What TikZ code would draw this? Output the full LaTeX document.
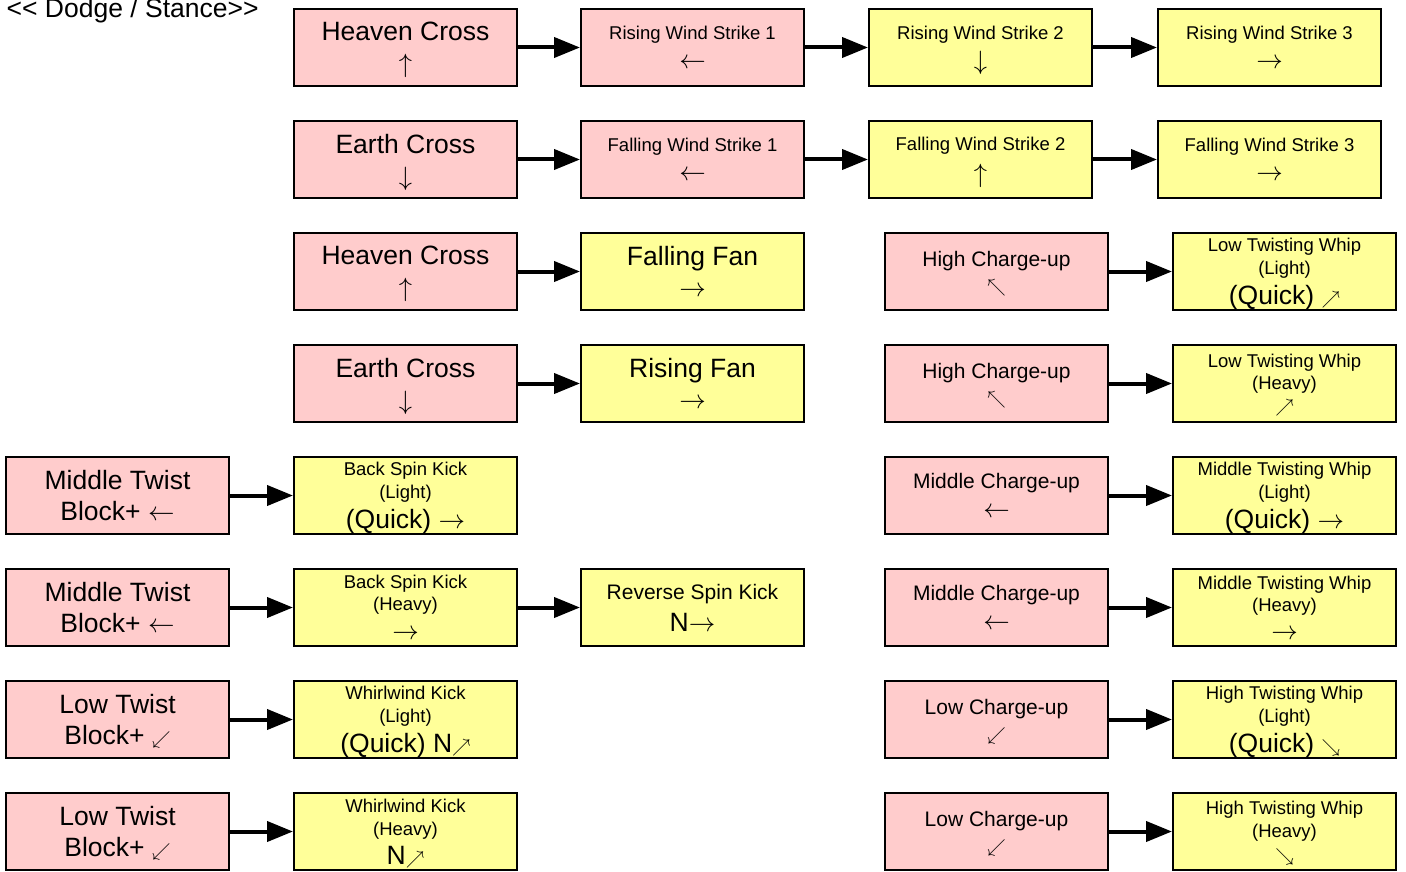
\documentclass[tikz,border=0pt]{standalone}
\usepackage{fix-cm}
\usepackage{fontspec}
\setmainfont{Liberation Sans}
\usetikzlibrary{arrows.meta}

\definecolor{openpink}{RGB}{255,204,204}
\definecolor{chainyellow}{RGB}{255,255,153}
\newcommand\bigtxt{\fontsize{26.5}{31}\selectfont}
\newcommand\midtxt{\fontsize{21}{31}\selectfont}
\newcommand\smtxt{\fontsize{18.5}{31}\selectfont}

\begin{document}
\begin{tikzpicture}[
  x=1pt, y=-1pt,
  move/.style={draw, line width=2pt, minimum width=223pt, minimum height=77pt,
    inner sep=0pt, text depth=0pt, align=center, font=\bigtxt},
  opener/.style={move, fill=openpink},
  followup/.style={move, fill=chainyellow},
  link/.style={line width=4pt, -{Triangle[length=26pt,width=20pt]}},
]
\useasboundingbox (0,0) rectangle (1406,872);
\node[anchor=base west, inner sep=0pt, font=\bigtxt] (title) at (6.5,18) {<\kern0pt< Dodge / Stance>\kern0pt>};

% cross -> wind strike chains
\node[opener] (hc1) at (405.5,47.5) {Heaven Cross\\[1pt] $\uparrow$};
\node[opener] (rws1) at (692.5,47.5) {\smtxt Rising Wind Strike 1\\[-2pt] $\leftarrow$};
\node[followup] (rws2) at (980.5,47.5) {\smtxt Rising Wind Strike 2\\[-1pt] $\downarrow$};
\node[followup] (rws3) at (1269.5,47.5) {\smtxt Rising Wind Strike 3\\[-2pt] $\rightarrow$};
\node[opener] (ec1) at (405.5,159.5) {Earth Cross\\[1pt] $\downarrow$};
\node[opener] (fws1) at (692.5,159.5) {\smtxt Falling Wind Strike 1\\[-2pt] $\leftarrow$};
\node[followup] (fws2) at (980.5,159.5) {\smtxt Falling Wind Strike 2\\[1pt] $\uparrow$};
\node[followup] (fws3) at (1269.5,159.5) {\smtxt Falling Wind Strike 3\\[-2pt] $\rightarrow$};

% fans
\node[opener] (hc2) at (405.5,271.5) {Heaven Cross\\[1pt] $\uparrow$};
\node[followup] (ffan) at (692.5,271.5) {Falling Fan\\ $\rightarrow$};
\node[opener] (ec2) at (405.5,383.5) {Earth Cross\\[1pt] $\downarrow$};
\node[followup] (rfan) at (692.5,383.5) {Rising Fan\\ $\rightarrow$};

% twist blocks
\node[opener] (mt1) at (117.5,495.5) {Middle Twist\\ Block+ $\leftarrow$};
\node[followup] (bskl) at (405.5,495.5) {\smtxt Back Spin Kick\\[-8pt] \smtxt (Light)\\[-1pt] (Quick) $\rightarrow$};
\node[opener] (mt2) at (117.5,607.5) {Middle Twist\\ Block+ $\leftarrow$};
\node[followup] (bskh) at (405.5,607.5) {\smtxt Back Spin Kick\\[-9pt] \smtxt (Heavy)\\[-2pt] $\rightarrow$};
\node[followup] (rsk) at (692.5,607.5) {\midtxt Reverse Spin Kick\\[1pt] N$\rightarrow$};
\node[opener] (lt1) at (117.5,719.5) {Low Twist\\ Block+ \smtxt$\swarrow$};
\node[followup] (wkl) at (405.5,719.5) {\smtxt Whirlwind Kick\\[-8pt] \smtxt (Light)\\[-1pt] (Quick) N\smtxt$\nearrow$};
\node[opener] (lt2) at (117.5,831.5) {Low Twist\\ Block+ \smtxt$\swarrow$};
\node[followup] (wkh) at (405.5,831.5) {\smtxt Whirlwind Kick\\[-8pt] \smtxt (Heavy)\\[-2pt] N\smtxt$\nearrow$};

% charge-ups and whips
\node[opener] (hcu1) at (996.5,271.5) {\midtxt High Charge-up\\[-5pt] \smtxt $\nwarrow$};
\node[followup] (ltwl) at (1284.5,271.5) {\smtxt Low Twisting Whip\\[-8pt] \smtxt (Light)\\[-1pt] (Quick) \smtxt$\nearrow$};
\node[opener] (hcu2) at (996.5,383.5) {\midtxt High Charge-up\\[-5pt] \smtxt $\nwarrow$};
\node[followup] (ltwh) at (1284.5,383.5) {\smtxt Low Twisting Whip\\[-9pt] \smtxt (Heavy)\\[-8pt] \smtxt $\nearrow$};
\node[opener] (mcu1) at (996.5,495.5) {\midtxt Middle Charge-up\\[-2pt] $\leftarrow$};
\node[followup] (mtwl) at (1284.5,495.5) {\smtxt Middle Twisting Whip\\[-8pt] \smtxt (Light)\\[-1pt] (Quick) $\rightarrow$};
\node[opener] (mcu2) at (996.5,607.5) {\midtxt Middle Charge-up\\[-2pt] $\leftarrow$};
\node[followup] (mtwh) at (1284.5,607.5) {\smtxt Middle Twisting Whip\\[-9pt] \smtxt (Heavy)\\[-3pt] $\rightarrow$};
\node[opener] (lcu1) at (996.5,719.5) {\midtxt Low Charge-up\\[-5pt] \smtxt $\swarrow$};
\node[followup] (htwl) at (1284.5,719.5) {\smtxt High Twisting Whip\\[-8pt] \smtxt (Light)\\[-1pt] (Quick) \smtxt$\searrow$};
\node[opener] (lcu2) at (996.5,831.5) {\midtxt Low Charge-up\\[-5pt] \smtxt $\swarrow$};
\node[followup] (htwh) at (1284.5,831.5) {\smtxt High Twisting Whip\\[-8pt] \smtxt (Heavy)\\[-7pt] \smtxt $\searrow$};

\draw[link] (hc1) -- (rws1);
\draw[link] (rws1) -- (rws2);
\draw[link] (rws2) -- (rws3);
\draw[link] (ec1) -- (fws1);
\draw[link] (fws1) -- (fws2);
\draw[link] (fws2) -- (fws3);
\draw[link] (hc2) -- (ffan);
\draw[link] (ec2) -- (rfan);
\draw[link] (mt1) -- (bskl);
\draw[link] (mt2) -- (bskh);
\draw[link] (bskh) -- (rsk);
\draw[link] (lt1) -- (wkl);
\draw[link] (lt2) -- (wkh);
\draw[link] (hcu1) -- (ltwl);
\draw[link] (hcu2) -- (ltwh);
\draw[link] (mcu1) -- (mtwl);
\draw[link] (mcu2) -- (mtwh);
\draw[link] (lcu1) -- (htwl);
\draw[link] (lcu2) -- (htwh);
\end{tikzpicture}
\end{document}
